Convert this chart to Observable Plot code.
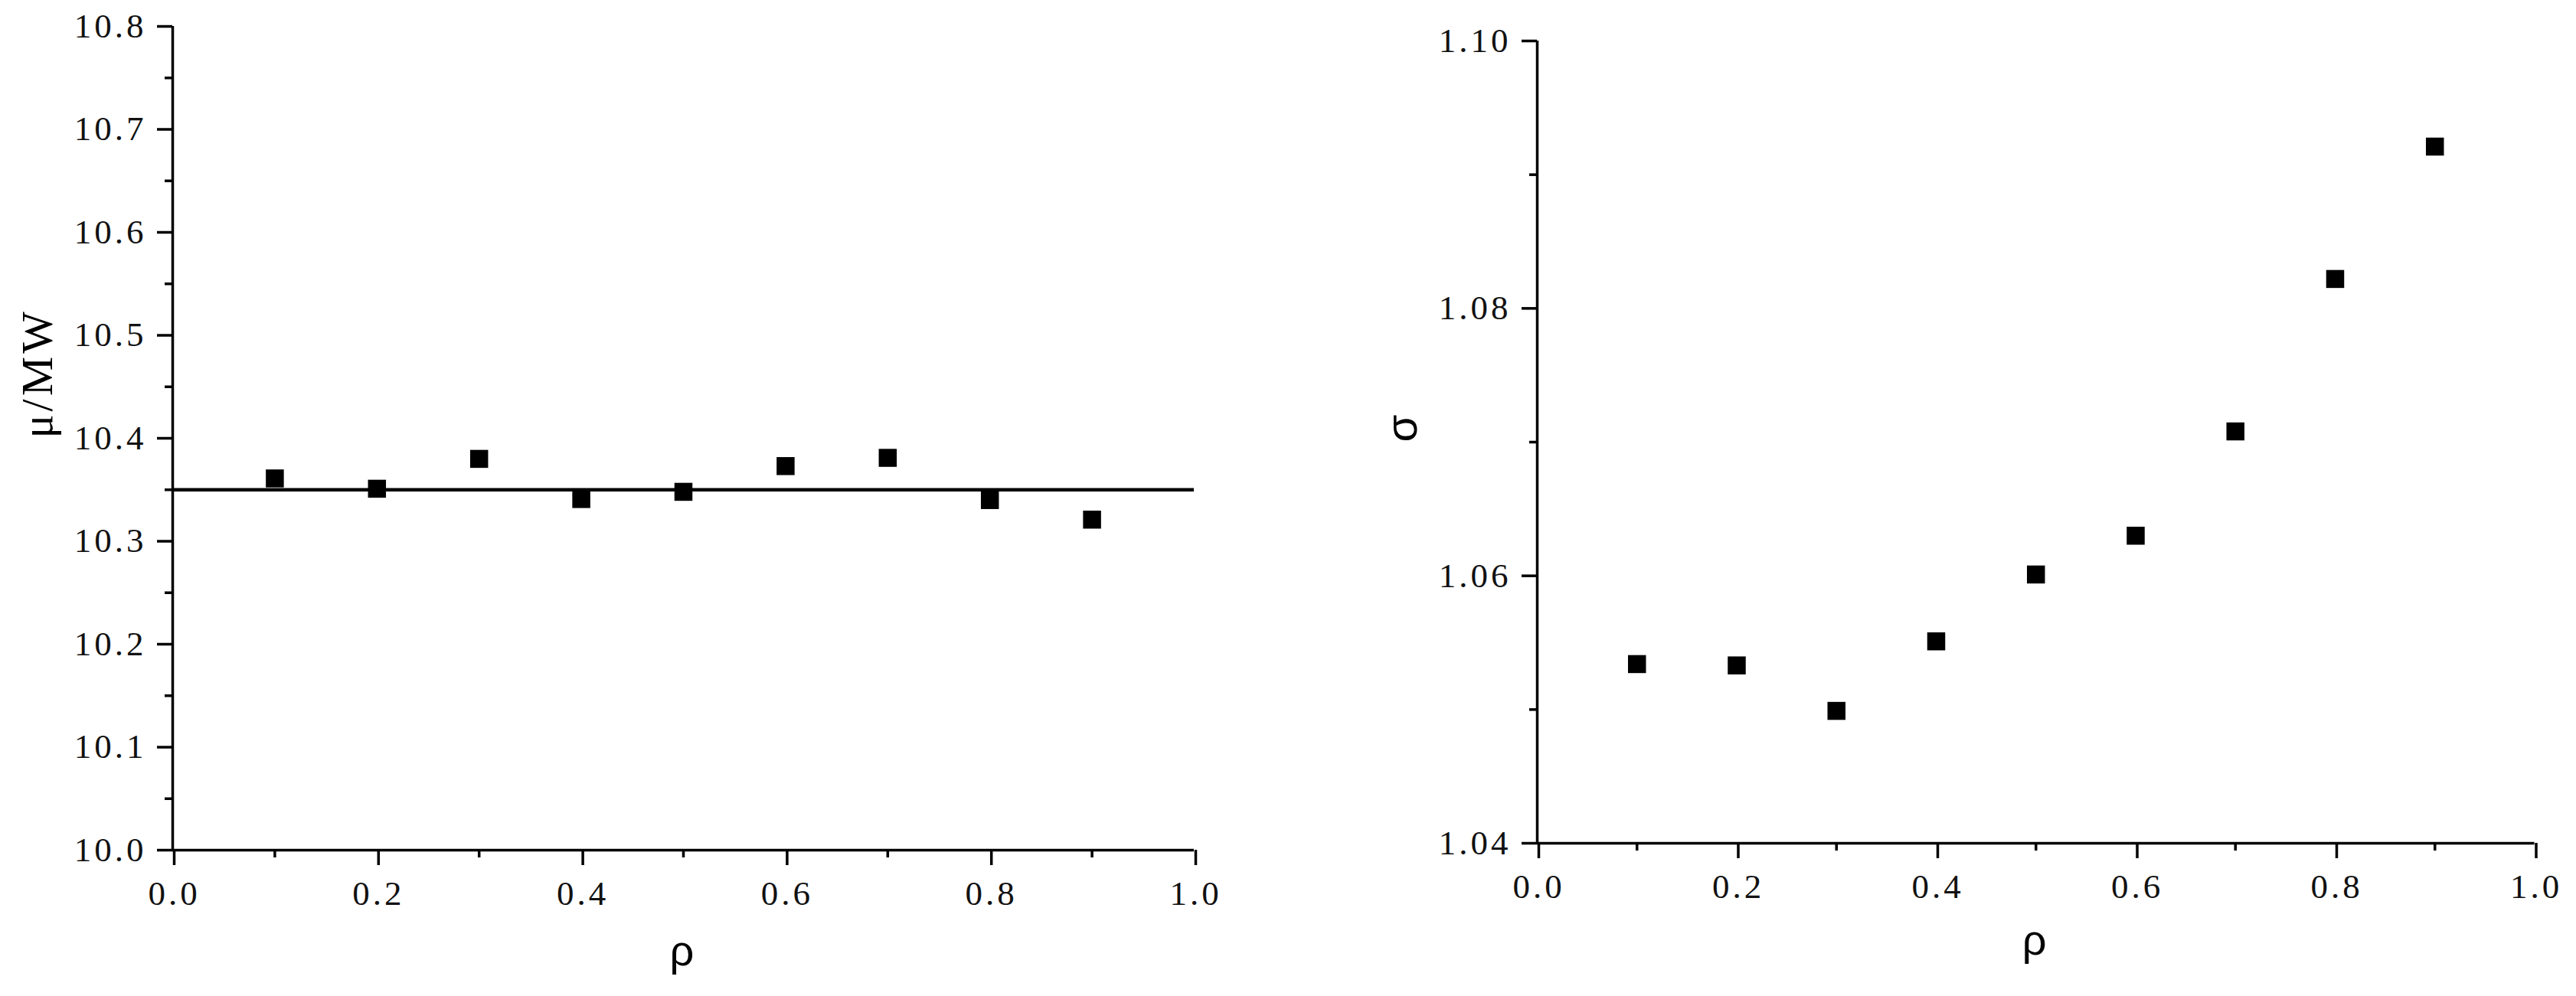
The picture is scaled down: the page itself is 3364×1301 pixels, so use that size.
<!DOCTYPE html>
<html>
<head>
<meta charset="utf-8">
<script src="https://cdn.jsdelivr.net/npm/d3@7"></script>
<script src="https://cdn.jsdelivr.net/npm/@observablehq/plot@0.6"></script>
<style>
  html, body { margin: 0; padding: 0; background: #fff; }
  #wrap { position: relative; width: 3364px; height: 1301px; overflow: hidden; background: #fff; }
  #left, #right { position: absolute; top: 0; }
  #left { left: 0; }
  #right { left: 1700px; }
</style>
</head>
<body>
<div id="wrap"><div id="left"></div><div id="right"></div></div>
<script>
// ---- data ----
const rho = [0.1, 0.2, 0.3, 0.4, 0.5, 0.6, 0.7, 0.8, 0.9];
const mu = [10.361, 10.351, 10.380, 10.341, 10.348, 10.373, 10.381, 10.340, 10.321];
const muMean = 10.35;
const sigma = [1.0534, 1.0533, 1.0499, 1.0551, 1.0601, 1.0630, 1.0708, 1.0822, 1.0921];

const rhoTicks = [0, 0.2, 0.4, 0.6, 0.8, 1.0];
const rhoMinorTicks = [0.1, 0.3, 0.5, 0.7, 0.9];
const muTicks = [10.0, 10.1, 10.2, 10.3, 10.4, 10.5, 10.6, 10.7, 10.8];
const muMinorTicks = [10.05, 10.15, 10.25, 10.35, 10.45, 10.55, 10.65, 10.75];
const sigmaTicks = [1.04, 1.06, 1.08, 1.10];
const sigmaMinorTicks = [1.05, 1.07, 1.09];

const xLabel = "ρ";
const muLabel = "μ/MW";
const sigmaLabel = "σ";

const muData = rho.map((r, i) => ({rho: r, v: mu[i]}));
const sigmaData = rho.map((r, i) => ({rho: r, v: sigma[i]}));

const serif = "Liberation Serif, DejaVu Serif, serif";
const sans = "Liberation Sans, Arial, sans-serif";
const AX = 3.5;        // axis stroke width
const SQ = 23.5 / Math.sqrt(Math.PI); // square marker radius for Plot's symbol sizing

function panel({width, mt, mb, ml, mr, yDomain, yTicks, yMinor, yFmt, data, yLabel, yLabelFont, yLabelSize, yLabelDx, xLabelDy, extra}) {
  return Plot.plot({
    width, height: 1301,
    marginTop: mt, marginBottom: mb, marginLeft: ml, marginRight: mr,
    style: {fontFamily: serif, fontSize: "45px", color: "#000", background: "#fff", overflow: "visible", letterSpacing: "4px"},
    x: {domain: [0, 1], axis: null},
    y: {domain: yDomain, axis: null},
    marks: [
      ...(extra || []),
      Plot.ruleX([0], {stroke: "#000", strokeWidth: AX}),
      Plot.ruleY([yDomain[0]], {stroke: "#000", strokeWidth: AX}),
      Plot.axisY({ticks: yTicks, tickSize: 20, tickPadding: 14, tickFormat: d3.format(yFmt), strokeWidth: AX, label: null, fill: "#111"}),
      Plot.axisY({ticks: yMinor, tickSize: 10, tickFormat: () => "", strokeWidth: AX, label: null}),
      Plot.axisX({ticks: rhoTicks, tickSize: 20, tickPadding: 20, tickFormat: d3.format(".1f"), strokeWidth: AX, label: null, fill: "#111", dx: 2}),
      Plot.axisX({ticks: rhoMinorTicks, tickSize: 10, tickFormat: () => "", strokeWidth: AX, label: null}),
      Plot.dot(data, {x: "rho", y: "v", symbol: "square", r: SQ, fill: "#000", stroke: "none"}),
      Plot.text([xLabel], {text: d => d, frameAnchor: "bottom", dy: xLabelDy, fontFamily: sans, fontSize: 56, fill: "#000"}),
      Plot.text([yLabel], {text: d => d, frameAnchor: "left", rotate: -90, dx: yLabelDx, fontFamily: yLabelFont, fontSize: yLabelSize, fill: "#000"})
    ]
  });
}

const left = panel({
  width: 1680, mt: 34, mb: 191, ml: 225, mr: 121,
  yDomain: [10.0, 10.8], yTicks: muTicks, yMinor: muMinorTicks, yFmt: ".1f",
  data: muData, yLabel: muLabel, yLabelFont: serif, yLabelSize: 58, yLabelDx: -176, xLabelDy: 150,
  extra: [Plot.ruleY([muMean], {stroke: "#000", strokeWidth: 4.5})]
});
document.getElementById("left").appendChild(left);

const right = panel({
  width: 1664, mt: 53, mb: 200, ml: 307, mr: 54.5,
  yDomain: [1.04, 1.10], yTicks: sigmaTicks, yMinor: sigmaMinorTicks, yFmt: ".2f",
  data: sigmaData, yLabel: sigmaLabel, yLabelFont: sans, yLabelSize: 58, yLabelDx: -176, xLabelDy: 145
});
document.getElementById("right").appendChild(right);
</script>
</body>
</html>
